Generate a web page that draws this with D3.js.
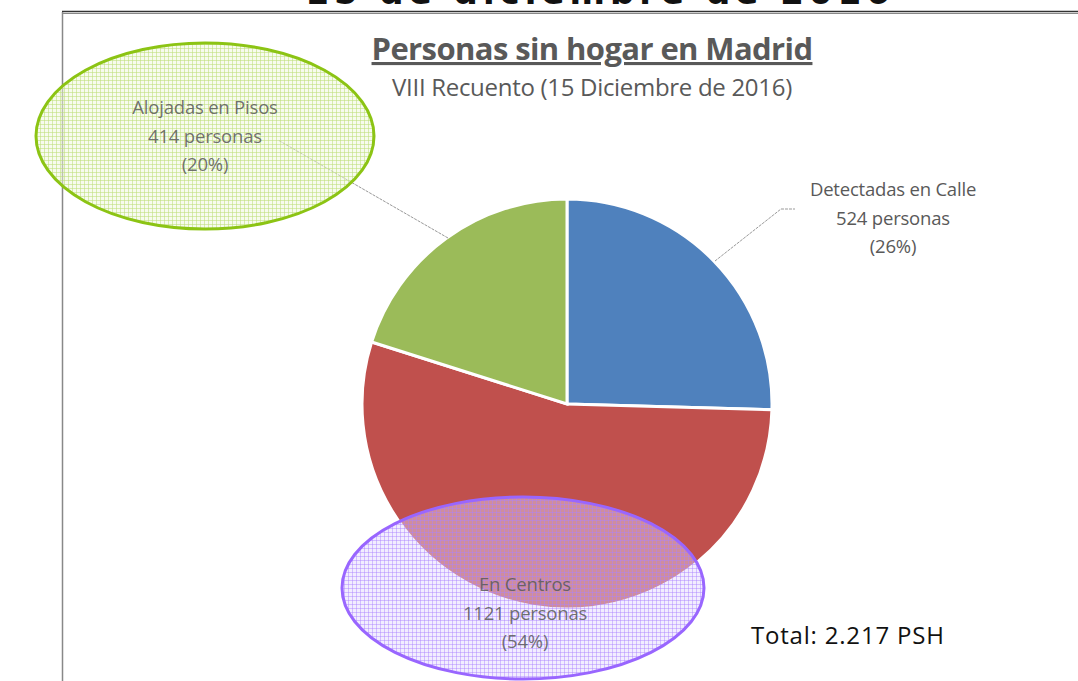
<!DOCTYPE html>
<html>
<head>
<meta charset="utf-8">
<script src="https://cdn.jsdelivr.net/npm/d3@7"></script>
<style>
  body { margin: 0; background: #fff; }
  svg { display: block; }
</style>
</head>
<body>
<div id="chart-container"></div>
<script>
// data
const categories = ["Detectadas en Calle", "En Centros", "Alojadas en Pisos"];
const values = [524, 1121, 414];
const percentLabels = ["(26%)", "(54%)", "(20%)"];
const sliceColors = ["#4f81bd", "#c0504d", "#9bbb59"];
const totalLabel = "Total: 2.217 PSH";

const width = 1078, height = 681;
const cx = 567, cy = 404, radius = 205;

const svg = d3.select("#chart-container").append("svg")
    .attr("width", width)
    .attr("height", height)
    .attr("viewBox", [0, 0, width, height]);

// grid patterns for the highlight ellipses
const defs = svg.append("defs");
function gridPattern(id, bg, line) {
    const p = defs.append("pattern")
        .attr("id", id)
        .attr("patternUnits", "userSpaceOnUse")
        .attr("width", 4).attr("height", 4);
    p.append("rect").attr("width", 4).attr("height", 4).attr("fill", bg);
    p.append("path").attr("d", "M0,0.5H4M0.5,0V4")
        .attr("stroke", line).attr("stroke-width", 1);
}
gridPattern("gridGreen", "rgba(240,247,222,0.5)", "rgba(190,222,120,0.55)");
gridPattern("gridPurple", "rgba(226,214,255,0.45)", "rgba(170,130,255,0.45)");

// cut-off heading on top of the slide (only its lower edge shows)
svg.append("text")
    .attr("x", 600).attr("y", 4)
    .attr("text-anchor", "middle")
    .style("font", "bold 34px 'DejaVu Sans', sans-serif")
    .style("letter-spacing", "5px")
    .attr("fill", "#111")
    .text("15 de diciembre de 2016");

// frame lines
svg.append("line").attr("x1", 62).attr("x2", width).attr("y1", 11.5).attr("y2", 11.5)
    .attr("stroke", "#333").attr("stroke-width", 1.5);
svg.append("line").attr("x1", 62).attr("x2", width).attr("y1", 13.5).attr("y2", 13.5)
    .attr("stroke", "#888").attr("stroke-width", 1);
svg.append("line").attr("x1", 62.5).attr("x2", 62.5).attr("y1", 12).attr("y2", height)
    .attr("stroke", "#888").attr("stroke-width", 1.5);

// titles
svg.append("text")
    .attr("x", 592).attr("y", 60)
    .attr("text-anchor", "middle")
    .attr("fill", "#595959")
    .attr("text-decoration", "underline")
    .style("font", "bold 31px 'Open Sans', sans-serif")
    .style("letter-spacing", "-0.6px")
    .text("Personas sin hogar en Madrid");

svg.append("text")
    .attr("x", 592).attr("y", 96)
    .attr("text-anchor", "middle")
    .attr("fill", "#595959")
    .style("font", "24px 'Open Sans', sans-serif")
    .style("letter-spacing", "-0.3px")
    .text("VIII Recuento (15 Diciembre de 2016)");

// pie
const pie = d3.pie().sort(null).value(d => d)(values);
const arc = d3.arc().innerRadius(0).outerRadius(radius);

const g = svg.append("g").attr("transform", `translate(${cx},${cy})`);
g.selectAll("path")
    .data(pie)
    .join("path")
    .attr("d", arc)
    .attr("fill", (d, i) => sliceColors[i])
    .attr("stroke", "#fff")
    .attr("stroke-width", 3);

// leader lines
const leaders = [
    [[715, 261], [781, 209], [795, 209]],
    null,
    [[448, 238], [278, 140]]
];
svg.append("g")
    .selectAll("path")
    .data(leaders.filter(d => d))
    .join("path")
    .attr("d", d3.line())
    .attr("fill", "none")
    .attr("stroke", "#999")
    .attr("stroke-width", 1)
    .attr("stroke-dasharray", "3,1");

// highlight ellipses
svg.append("ellipse")
    .attr("cx", 205).attr("cy", 136).attr("rx", 169).attr("ry", 93)
    .attr("fill", "url(#gridGreen)")
    .attr("stroke", "#8cc414").attr("stroke-width", 3);

svg.append("ellipse")
    .attr("cx", 523).attr("cy", 588).attr("rx", 181).attr("ry", 91)
    .attr("fill", "url(#gridPurple)")
    .attr("stroke", "#9966ff").attr("stroke-width", 3);

// data labels
const labelPos = [[893, 196], [525, 591], [205, 114]];
const labels = svg.append("g")
    .attr("fill", "#595959")
    .style("font", "18.5px 'Open Sans', sans-serif")
    .style("letter-spacing", "-0.2px")
    .attr("text-anchor", "middle");
categories.forEach((c, i) => {
    const t = labels.append("text").attr("x", labelPos[i][0]).attr("y", labelPos[i][1])
        .attr("fill-opacity", i === 0 ? 1 : 0.85);
    t.append("tspan").attr("x", labelPos[i][0]).attr("dy", 0).text(c);
    t.append("tspan").attr("x", labelPos[i][0]).attr("dy", 28.5).text(`${values[i]} personas`);
    t.append("tspan").attr("x", labelPos[i][0]).attr("dy", 28.5).text(percentLabels[i]);
});

// total
svg.append("text")
    .attr("x", 751).attr("y", 644)
    .attr("fill", "#111")
    .style("font", "500 24px 'Open Sans', sans-serif")
    .style("letter-spacing", "0.8px")
    .text(totalLabel);
</script>
</body>
</html>
